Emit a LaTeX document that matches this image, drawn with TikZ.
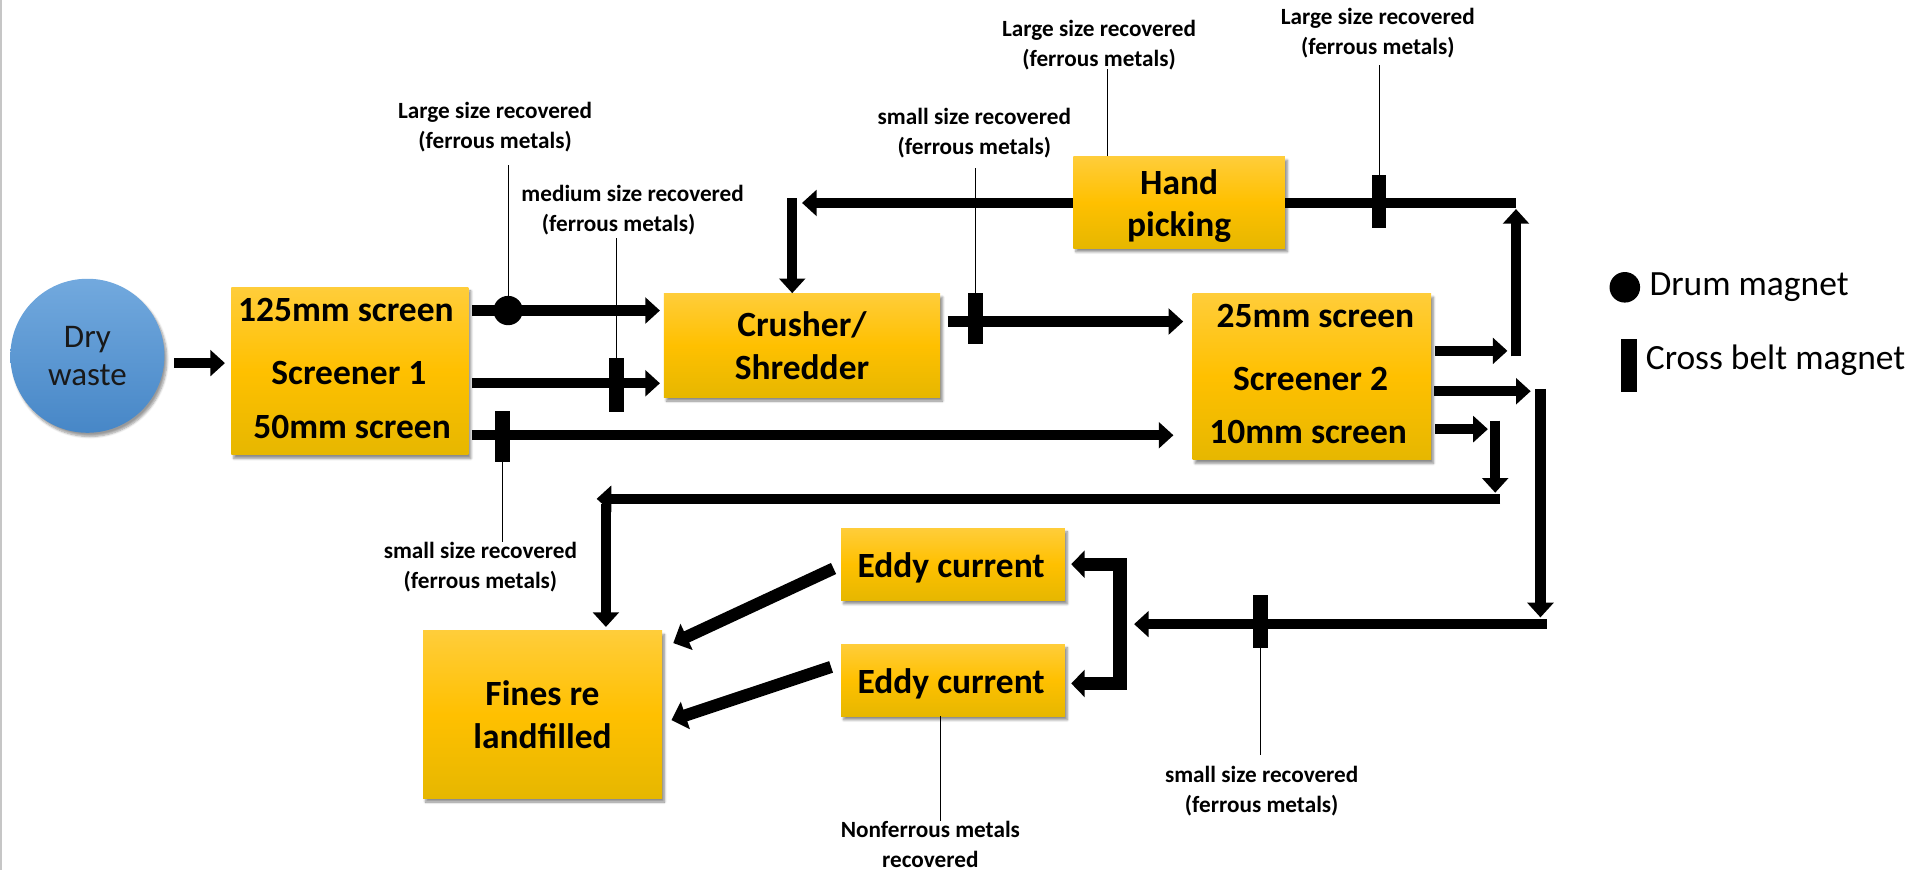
\documentclass[tikz,border=0pt]{standalone}
\usepackage{fontspec}
\setmainfont{Carlito}
\usetikzlibrary{arrows.meta,shadows.blur}

\definecolor{boxtop}{HTML}{FFCD3A}
\definecolor{boxmid}{HTML}{FFC000}
\definecolor{boxbot}{HTML}{E6B700}
\definecolor{blobtop}{HTML}{72A9DE}
\definecolor{blobbot}{HTML}{4787C7}

\tikzset{
  unit/.style={rectangle, inner sep=0pt, top color=boxtop, bottom color=boxbot, middle color=boxmid,
    blur shadow={shadow xshift=2pt, shadow yshift=-3pt, shadow blur steps=6, shadow opacity=45}},
  boxtext/.style={font=\fontsize{29}{35}\selectfont\bfseries, align=center, inner sep=0pt},
  blob/.style={circle, minimum size=126pt, inner sep=0pt, top color=blobtop, bottom color=blobbot,
    font=\fontsize{27}{31.4}\selectfont, align=center, text=black!90,
    blur shadow={shadow xshift=2pt, shadow yshift=-3pt, shadow blur steps=6, shadow opacity=40}},
  note/.style={font=\fontsize{19}{24.5}\selectfont\bfseries, align=center, inner sep=0pt},
  key/.style={font=\fontsize{29}{35}\selectfont, inner sep=0pt},
  flow/.style={line width=8.5pt, -{Triangle[length=12pt,width=21pt]}},
  wideflow/.style={line width=10pt, -{Triangle[length=12pt,width=23pt]}},
  forkline/.style={line width=11pt, line join=miter, {Triangle[length=11pt,width=22pt]}-{Triangle[length=11pt,width=22pt]}},
  belt/.style={line width=8.5pt},
  leader/.style={line width=0.9pt},
  crossbelt/.style={rectangle, fill=black, minimum width=12pt, minimum height=44pt, inner sep=0pt},
  drum/.style={circle, fill=black, minimum size=24pt, inner sep=0pt},
  edge/.style={draw=gray!45, line width=1.6pt},
}

\begin{document}
\begin{tikzpicture}[x=1pt,y=-1pt]
\useasboundingbox (0,0) rectangle (1568,712);
\draw[edge] (0.8,0) -- (0.8,712);

% ---------- process units ----------
\node[blob] (dry) at (71.5,291) {Dry\\waste};

\node[unit, minimum width=194pt, minimum height=137pt] (s1) at (286.2,303.5) {};
\node[boxtext] (s1a) at (283,253.6) {125mm screen};
\node[boxtext] (s1b) at (285.4,305) {Screener 1};
\node[boxtext] (s1c) at (288,349) {50mm screen};

\node[unit, boxtext, minimum width=226pt, minimum height=85pt] (crusher) at (656,282.5) {Crusher/\\Shredder};
\node[unit, minimum width=173pt, minimum height=75pt] (hand) at (964.5,165.5) {};
\node[boxtext] (hand-t) at (964.5,168.5) {Hand\\picking};

\node[unit, minimum width=195pt, minimum height=136pt] (s2) at (1073,308) {};
\node[boxtext] (s2a) at (1076,258.5) {25mm screen};
\node[boxtext] (s2b) at (1072,310) {Screener 2};
\node[boxtext] (s2c) at (1070,353) {10mm screen};

\node[unit, minimum width=183pt, minimum height=59pt] (eddy1) at (779.5,461.5) {};
\node[boxtext] (eddy1-t) at (778,464.5) {Eddy current};
\node[unit, minimum width=183pt, minimum height=59pt] (eddy2) at (779.5,556.3) {};
\node[boxtext] (eddy2-t) at (778,559) {Eddy current};
\node[unit, boxtext, minimum width=195.5pt, minimum height=137pt] (fines) at (443.75,584.5) {Fines re\\landfilled};

% ---------- routing points ----------
\coordinate (row-feed) at (0,297);
\coordinate (row-125) at (0,254);
\coordinate (row-mid) at (0,313.5);
\coordinate (row-50) at (0,356);
\coordinate (row-cr) at (0,263);
\coordinate (hp-left) at (656,166);
\coordinate (cr-drop) at (648,162);
\coordinate (rise-top) at (1240,166);
\coordinate (rise-foot) at (1240,287);
\coordinate (drop2-top) at (1260,320);
\coordinate (drop2-foot) at (1260,510.5);
\coordinate (fork) at (916,510.5);
\coordinate (drop1-top) at (1223,351);
\coordinate (drop1-foot) at (1223,408);
\coordinate (ret-end) at (488,408);
\coordinate (fines-drop) at (495.6,412);

% ---------- material flows ----------
\draw[flow, shorten <=8pt, shorten >=5pt] (dry.east |- row-feed) -- (s1.west |- row-feed);
\draw[flow, shorten <=2.6pt, shorten >=3pt] (s1.east |- row-125) -- (crusher.west |- row-125);
\draw[flow, shorten <=2.6pt, shorten >=3pt] (s1.east |- row-mid) -- (crusher.west |- row-mid);
\draw[flow, shorten <=2.6pt, shorten >=15.5pt] (s1.east |- row-50) -- (s2.west |- row-50);
\draw[flow, shorten <=6pt, shorten >=7.5pt] (crusher.east |- row-cr) -- (s2.west |- row-cr);

\draw[flow] (hand.west |- hp-left) -- (hp-left);
\draw[flow] (cr-drop) -- (crusher.north -| cr-drop);
\draw[belt] (hand.east |- rise-top) -- (rise-top);

\draw[flow, shorten <=3.4pt, shorten >=7pt] (s2.east |- rise-foot) -- (rise-foot);
\draw[flow, shorten >=5pt] ([yshift=-4.5pt]rise-foot) -- (rise-top);

\draw[flow, shorten <=2.4pt, shorten >=8pt] (s2.east |- drop2-top) -- (drop2-top);
\draw[flow, shorten >=5.5pt] ([yshift=2pt]drop2-top) -- (drop2-foot);
\draw[flow, shorten >=11.6pt] ([xshift=5pt]drop2-foot) -- (fork);

\draw[flow, shorten <=3.4pt, shorten >=6pt] (s2.east |- drop1-top) -- (drop1-top);
\draw[flow, shorten >=5pt] ([yshift=7pt]drop1-top) -- (drop1-foot);
\draw[flow] ([xshift=4pt]drop1-foot) -- (ret-end);
\draw[flow, shorten >=3pt] (fines-drop) -- (fines.north -| fines-drop);

\draw[forkline, shorten <=5pt, shorten >=5pt] (eddy1.east) -| (fork) |- ([yshift=-2.7pt]eddy2.east);

\draw[wideflow] ([shift={(-6,3.5)}]eddy1.west) -- ([shift={(9,-58.5)}]fines.east);
\draw[wideflow] ([shift={(-8,-10.8)}]eddy2.west) -- ([shift={(7.5,4.5)}]fines.east);

% ---------- magnets ----------
\node[drum] (dm) at (415.6,254) {};
\node[crossbelt] (cb-mid) at (504,315) {};
\node[crossbelt, minimum height=42pt] (cb-50) at (411,357) {};
\node[crossbelt, minimum height=41pt] (cb-cr) at (798,260.5) {};
\node[crossbelt, minimum height=43.5pt] (cb-hp) at (1128,164.8) {};
\node[crossbelt, minimum height=43.3pt] (cb-low) at (1031,508.4) {};

% ---------- leader lines ----------
\draw[leader] (dm.center) -- +(0,-119);
\draw[leader] (cb-mid.north) -- +(0,-98);
\draw[leader] (cb-50.south) -- +(0,65);
\draw[leader] (cb-cr.north) -- +(0,-102);
\draw[leader] (cb-hp.north) -- +(0,-90);
\draw[leader] (cb-low.south) -- +(0,87.5);
\draw[leader] ([xshift=-59pt]hand.north) -- +(0,-71);
\draw[leader] ([xshift=-10.5pt]eddy2.south) -- +(0,85.5);

% ---------- annotations ----------
\node[note] (n-drum) at (405,103.7) {Large size recovered\\(ferrous metals)};
\node[note] (n-mid) at (517.5,171.8) {medium size recovered\\(ferrous metals)\rule{23pt}{0pt}};
\node[note] (n-50) at (393,464) {small size recovered\\(ferrous metals)};
\node[note] (n-cr) at (797,108.5) {small size recovered\\(ferrous metals)};
\node[note] (n-hp) at (899,36.8) {Large size recovered\\(ferrous metals)};
\node[note] (n-hp2) at (1127,27.3) {Large size recovered\\(ferrous metals)};
\node[note] (n-low) at (1032,646.8) {small size recovered\\(ferrous metals)};
\node[note] (n-nf) at (761,690.5) {Nonferrous metals\\recovered};

% ---------- key ----------
\node[drum, minimum size=25pt] (key-drum) at (1329,235) {};
\node[key, anchor=base west] (key-drum-t) at (1349,242) {Drum magnet};
\node[crossbelt, minimum width=13pt, minimum height=43.5pt] (key-belt) at (1332.5,298.8) {};
\node[key, anchor=base west] (key-belt-t) at (1346,302.6) {Cross belt magnet};
\end{tikzpicture}
\end{document}
